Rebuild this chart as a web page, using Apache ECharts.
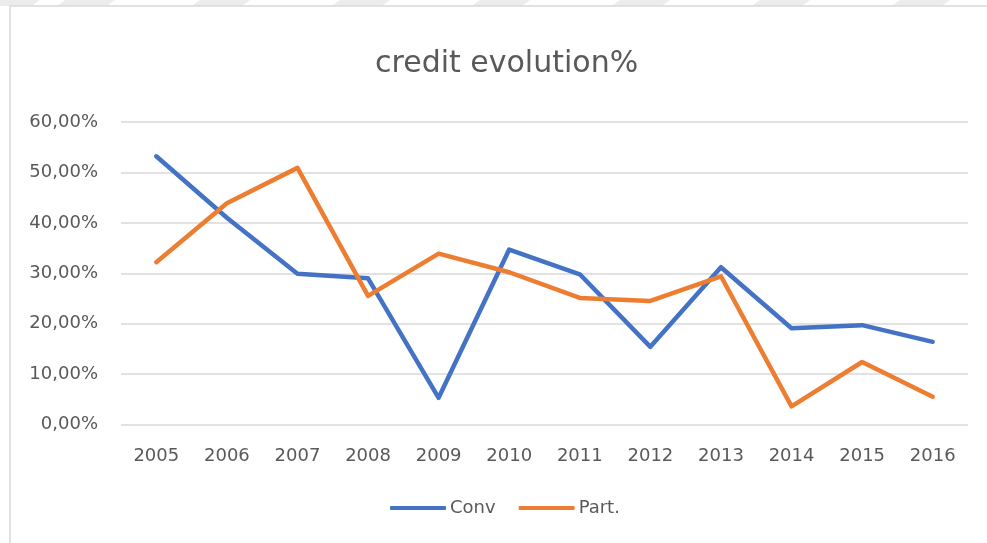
<!DOCTYPE html>
<html>
<head>
<meta charset="utf-8">
<style>
  html, body { margin: 0; padding: 0; background: #fff; }
  #chart { width: 987px; height: 543px; }
</style>
<script src="https://cdn.jsdelivr.net/npm/echarts@6/dist/echarts.min.js"></script>
</head>
<body>
<div id="chart"></div>
<script>
// values (percent)
const years = ["2005", "2006", "2007", "2008", "2009", "2010", "2011", "2012", "2013", "2014", "2015", "2016"];
const conv = [53.2, 41.0, 29.9, 29.0, 5.3, 34.7, 29.8, 15.4, 31.2, 19.1, 19.7, 16.4];
const part = [32.2, 43.9, 50.9, 25.5, 33.9, 30.2, 25.1, 24.5, 29.4, 3.6, 12.4, 5.5];

const textColor = "#595959";
const font = "'DejaVu Sans', sans-serif";

// faint watermark stripes above the frame
const stripeX = [-20, 55, 190, 330, 470, 610, 750, 890];
const stripes = stripeX.map((x) => ({
  type: "polygon",
  silent: true,
  shape: { points: [[x + 10, 0], [x + 60, 0], [x + 52, 6], [x + 2, 6]] },
  style: { fill: "#ececec" },
}));

const chart = echarts.init(document.getElementById("chart"));
chart.setOption({
  backgroundColor: "#fff",
  animation: false,
  title: {
    text: "credit evolution%",
    left: 370,
    top: 44,
    textStyle: { color: textColor, fontFamily: font, fontSize: 30, fontWeight: "normal" },
  },
  graphic: [
    ...stripes,
    {
      type: "rect",
      silent: true,
      shape: { x: 10, y: 6, width: 1000, height: 560 },
      style: { fill: "none", stroke: "#d9d9d9", lineWidth: 1.5 },
    },
  ],
  legend: {
    bottom: 21,
    left: 385,
    itemWidth: 56,
    itemHeight: 4,
    itemGap: 23,
    icon: "roundRect",
    textStyle: { color: textColor, fontFamily: font, fontSize: 18, padding: [0, 0, 0, -1] },
    data: ["Conv", "Part."],
  },
  grid: { left: 121, right: 19, top: 122, bottom: 118.5 },
  xAxis: {
    type: "category",
    data: years,
    boundaryGap: true,
    axisLine: { show: false },
    axisTick: { show: false },
    axisLabel: { color: textColor, fontFamily: font, fontSize: 18, margin: 23 },
  },
  yAxis: {
    type: "value",
    min: 0,
    max: 60,
    interval: 10,
    axisLine: { show: false },
    axisTick: { show: false },
    axisLabel: {
      color: textColor,
      fontFamily: font,
      fontSize: 18,
      margin: 23,
      formatter: (v) => v.toFixed(2).replace(".", ",") + "%",
    },
    splitLine: { lineStyle: { color: "#d9d9d9", width: 1.5 } },
  },
  series: [
    {
      name: "Conv",
      type: "line",
      data: conv,
      symbol: "none",
      color: "#4472C4",
      lineStyle: { width: 4.5, cap: "round", join: "round" },
    },
    {
      name: "Part.",
      type: "line",
      data: part,
      symbol: "none",
      color: "#ED7D31",
      lineStyle: { width: 4.5, cap: "round", join: "round" },
    },
  ],
});
</script>
</body>
</html>
